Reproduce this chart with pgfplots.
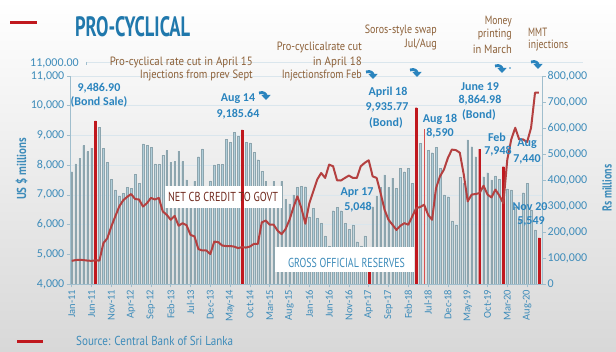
\documentclass[border=0pt]{standalone}
\usepackage{pgfplots}
\pgfplotsset{compat=1.18}
\usepackage{pgfplotstable}
\usepackage{fontspec}
\setmainfont{Carlito}
\newfontfamily\condfont{PT Sans}
\usetikzlibrary{arrows.meta}

\definecolor{titleblue}{RGB}{32,120,172}
\definecolor{tickblue}{RGB}{62,140,186}
\definecolor{annblue}{RGB}{42,132,190}
\definecolor{brownann}{RGB}{140,96,56}
\definecolor{barblue}{RGB}{176,206,218}
\definecolor{barred}{RGB}{192,24,30}
\definecolor{lightred}{RGB}{215,80,80}
\definecolor{linered}{RGB}{180,64,64}
\definecolor{axisc}{RGB}{160,190,205}
\definecolor{gridc}{RGB}{218,230,237}
\definecolor{netc}{RGB}{112,42,30}
\definecolor{bgg}{RGB}{216,216,216}

\newcommand{\fw}[2]{\resizebox{#1pt}{\height}{#2}}

\pgfplotstableread{
x y
0 7781
1 8040
2 8232
3 8660
4 8458
5 8570
7 9276
8 8570
9 8097
10 7525
11 7165
12 6963
13 7050
14 7250
15 7222
16 7690
17 7390
18 8714
19 8660
20 8592
21 8040
22 8030
23 8333
24 8490
25 8097
26 8120
27 8468
28 8120
29 7502
30 7200
31 7450
32 8287
33 8545
34 7200
35 7468
36 8007
37 8030
38 8030
39 8872
40 8760
41 9107
42 8962
44 8771
45 8750
46 8428
47 8182
48 7800
49 7450
50 7200
51 7450
52 7200
53 7450
54 6850
55 6700
56 7000
57 7256
58 7290
59 7277
60 6266
61 6549
62 6212
63 6044
64 5616
65 5279
66 6469
67 6582
68 6469
69 6044
70 5842
71 5987
72 5425
73 5279
74 5616
76 6604
77 6963
78 7256
79 7670
80 7256
81 7559
82 7222
83 7896
84 7782
85 7896
86 7391
88 8737
90 8500
91 8421
92 8602
93 7896
94 6997
95 6940
96 6121
97 5987
98 7592
99 7391
100 8848
101 8623
102 8287
104 7614
105 7748
106 7502
107 7636
108 7525
110 7200
111 7165
112 6600
113 6155
114 7074
115 7391
116 6492
117 5818
}\bluebars

\pgfplotstableread{
x y
6 9486.90
43 9185.64
87 9935.77
103 8535
109 7948
118 5549
}\redbars

\pgfplotstableread{
x y
0 89
1 92
2 93
3 92
4 90
5 89
6 91
7 90
8 157
9 176
10 221
11 260
12 298
13 322
14 335
15 346
16 327
17 325
18 298
19 311
20 331
21 325
22 331
23 279
24 266
25 247
26 262
27 224
28 234
29 226
30 189
31 183
32 134
33 129
34 129
35 115
36 163
37 161
38 148
39 146
40 146
41 144
42 138
43 142
44 140
45 144
46 154
47 154
48 237
49 244
50 228
51 228
52 205
53 192
54 211
55 247
56 295
57 337
58 292
59 232
60 310
61 356
62 402
63 427
64 408
65 459
66 453
67 399
68 398
69 408
70 417
71 408
72 408
73 453
74 466
75 476
76 414
77 408
78 350
79 286
80 247
81 228
82 208
83 224
84 234
85 228
86 260
87 292
88 296
89 305
90 266
91 247
92 369
93 414
94 440
95 485
96 517
97 515
98 505
99 421
100 318
101 344
102 346
103 350
104 378
105 344
106 333
107 363
108 340
109 311
110 479
111 556
112 601
113 556
114 556
115 546
116 601
117 736
118 736
}\netcredit

\newcommand{\barrow}[2]{\draw[annblue, line width=2.8pt, -{Triangle[length=5pt, width=9pt]}] (#1-6,#2-5) .. controls (#1-1,#2-7) and (#1+1,#2-3) .. (#1+1,#2+2);}

\begin{document}
\begin{tikzpicture}
\shade[top color=white, middle color=white, bottom color=bgg] (0,0) rectangle (616pt,351pt);
\path[use as bounding box] (0,0) rectangle (616pt,351pt);

\begin{axis}[
  at={(70pt,67pt)}, anchor=south west, scale only axis,
  width=472pt, height=208pt,
  xmin=-0.43, xmax=118.76, ymin=4000, ymax=11000,
  axis y line*=left, axis x line*=bottom,
  axis line style={draw=axisc, line width=0.8pt},
  ytick={4000,5000,...,11000},
  ymajorgrids, grid style={draw=gridc, line width=0.7pt},
  xtick={0,5,...,115},
  xticklabels={Jan-11,Jun-11,Nov-11,Apr-12,Sep-12,Feb-13,Jul-13,Dec-13,May-14,Oct-14,Mar-15,Aug-15,Jan-16,Jun-16,Nov-16,Apr-17,Sep-17,Feb-18,Jul-18,Dec-18,May-19,Oct-19,Mar-20,Aug-20},
  xticklabel style={rotate=90, anchor=east, text=tickblue, font=\fontsize{10.5}{12}\selectfont, inner sep=2pt},
  yticklabel style={text=tickblue, font=\fontsize{12}{13}\selectfont, inner sep=2pt},
  /pgf/number format/.cd, assume math mode=true, 1000 sep={,}, fixed, /pgfplots/.cd,
  scaled y ticks=false,
  tick align=outside, major tick length=3.5pt,
  tick style={draw=axisc, line width=0.6pt},
]
\addplot[ybar, bar width=1.7pt, bar shift=0pt, fill=barblue, draw=barblue!80!black, line width=0.2pt] table[x=x,y=y]{\bluebars};
\addplot[ybar, bar width=1.8pt, bar shift=0pt, fill=barred, draw=barred, line width=0.2pt] coordinates {(75,5048)};
\fill[white] (axis cs:23.56,6558) rectangle (axis cs:53.1,7298);
\fill[white] (axis cs:51.36,4404) rectangle (axis cs:86.5,5245);
\addplot[ybar, bar width=1.8pt, bar shift=0pt, fill=barred, draw=barred, line width=0.2pt] table[x=x,y=y]{\redbars};
\addplot[ybar, bar width=1.1pt, bar shift=0pt, fill=lightred, draw=none] coordinates {(89,9209)};
\end{axis}

\begin{axis}[
  at={(70pt,67pt)}, anchor=south west, scale only axis,
  width=472pt, height=208pt,
  xmin=-0.43, xmax=118.76, ymin=0, ymax=800,
  axis y line*=right, axis x line=none,
  axis line style={draw=axisc, line width=0.8pt},
  ytick={0,100,...,800},
  yticklabels={0,{100,000},{200,000},{300,000},{400,000},{500,000},{600,000},{700,000},{800,000}},
  yticklabel style={text=tickblue, font=\fontsize{12}{13}\selectfont, inner sep=2pt, anchor=west},
  tick align=outside, major tick length=3.5pt,
  tick style={draw=axisc, line width=0.6pt},
]
\addplot[linered, line width=2pt, line join=round, mark=none] table[x=x,y=y]{\netcredit};
\end{axis}

\begin{scope}[shift={(0,351pt)}, yscale=-1, x=1pt, y=1pt, every node/.style={inner sep=0pt}]
% red markers
\draw[barred, line width=3pt] (10,23) -- (37,23);
\draw[barred, line width=3pt] (17,341) -- (43,341);
% title
\node[text=titleblue] at (132.5,27) {\condfont\bfseries\fontsize{28}{30}\selectfont\fw{115}{PRO-CYCLICAL}};
% extra 11,000.00 line
\draw[gridc, line width=0.7pt] (86,62) -- (583,62);
\draw[axisc, line width=0.6pt] (86,62) -- (86,65);
\node[text=tickblue, anchor=east] at (79,63) {\fontsize{12}{13}\selectfont 11,000.00};
% axis titles
\node[text=tickblue, rotate=90] at (21.5,169) {\condfont\bfseries\fontsize{13}{14}\selectfont\fw{62}{US \$ millions}};
\node[text=tickblue, rotate=90] at (607,188) {\condfont\bfseries\fontsize{13}{14}\selectfont\fw{47}{Rs millions}};
% brown annotations
\node[text=brownann, anchor=east] at (253,62) {\condfont\fontsize{12}{13}\selectfont\fw{143}{Pro-cyclical rate cut in April 15}};
\node[text=brownann, anchor=east] at (253,76) {\condfont\fontsize{12}{13}\selectfont\fw{113}{Injections from prev Sept}};
\node[text=brownann, anchor=east] at (362,47) {\condfont\fontsize{12}{13}\selectfont\fw{85}{Pro-cyclicalrate cut}};
\node[text=brownann, anchor=east] at (362,62) {\condfont\fontsize{12}{13}\selectfont\fw{49}{in April 18}};
\node[text=brownann, anchor=east] at (362,76) {\condfont\fontsize{12}{13}\selectfont\fw{80}{Injectionsfrom Feb}};
\node[text=brownann, anchor=east] at (437,30) {\condfont\fontsize{12}{13}\selectfont\fw{72}{Soros-style swap}};
\node[text=brownann, anchor=east] at (437,45) {\condfont\fontsize{12}{13}\selectfont\fw{32}{Jul/Aug}};
\node[text=brownann, anchor=east] at (512,22) {\condfont\fontsize{12}{13}\selectfont\fw{27}{Money}};
\node[text=brownann, anchor=east] at (512,35) {\condfont\fontsize{12}{13}\selectfont\fw{34}{printing}};
\node[text=brownann, anchor=east] at (512,49) {\condfont\fontsize{12}{13}\selectfont\fw{39}{in March}};
\node[text=brownann, anchor=west] at (528,32) {\condfont\fontsize{12}{13}\selectfont\fw{19}{MMT}};
\node[text=brownann, anchor=west] at (528,46) {\condfont\fontsize{12}{13}\selectfont\fw{40}{injections}};
% arrows
\barrow{265}{98}
\barrow{372}{77}
\barrow{416}{75}
\barrow{501}{71}
\barrow{537}{67}
\fill[annblue] (510,68) circle (0.8);
% blue annotations
\begin{scope}[every node/.append style={text=annblue, font=\bfseries\fontsize{12}{13}\selectfont}]
\node at (99,88) {9,486.90};
\node at (99,102) {(Bond Sale)};
\node at (238,99) {Aug 14};
\node at (238,114) {9,185.64};
\node at (388,92) {April 18};
\node at (387,107) {9,935.77};
\node at (386,123) {(Bond)};
\node at (440,119) {Aug 18};
\node at (440,133) {8,590};
\node at (480,87) {June 19};
\node at (480,100) {8,864.98};
\node at (479,115) {(Bond)};
\node at (497,137) {Feb};
\node at (498,151) {7,948};
\node at (527,144) {Aug};
\node at (527,159) {7,440};
\node at (530,207) {Nov 20};
\node at (531,221) {5,549};
\node at (357,193) {Apr 17};
\node at (358,207) {5,048};
\end{scope}
% box labels
\node[text=netc] at (223,197) {\condfont\fontsize{13}{14}\selectfont\fw{110}{NET CB CREDIT TO GOVT}};
\node[text=tickblue] at (346.5,263) {\condfont\fontsize{13}{14}\selectfont\fw{117}{GROSS OFFICIAL RESERVES}};
% source
\node[text=tickblue, anchor=west] at (76,341) {\condfont\fontsize{13}{14}\selectfont\fw{157}{Source: Central Bank of Sri Lanka}};
\end{scope}
\end{tikzpicture}
\end{document}
